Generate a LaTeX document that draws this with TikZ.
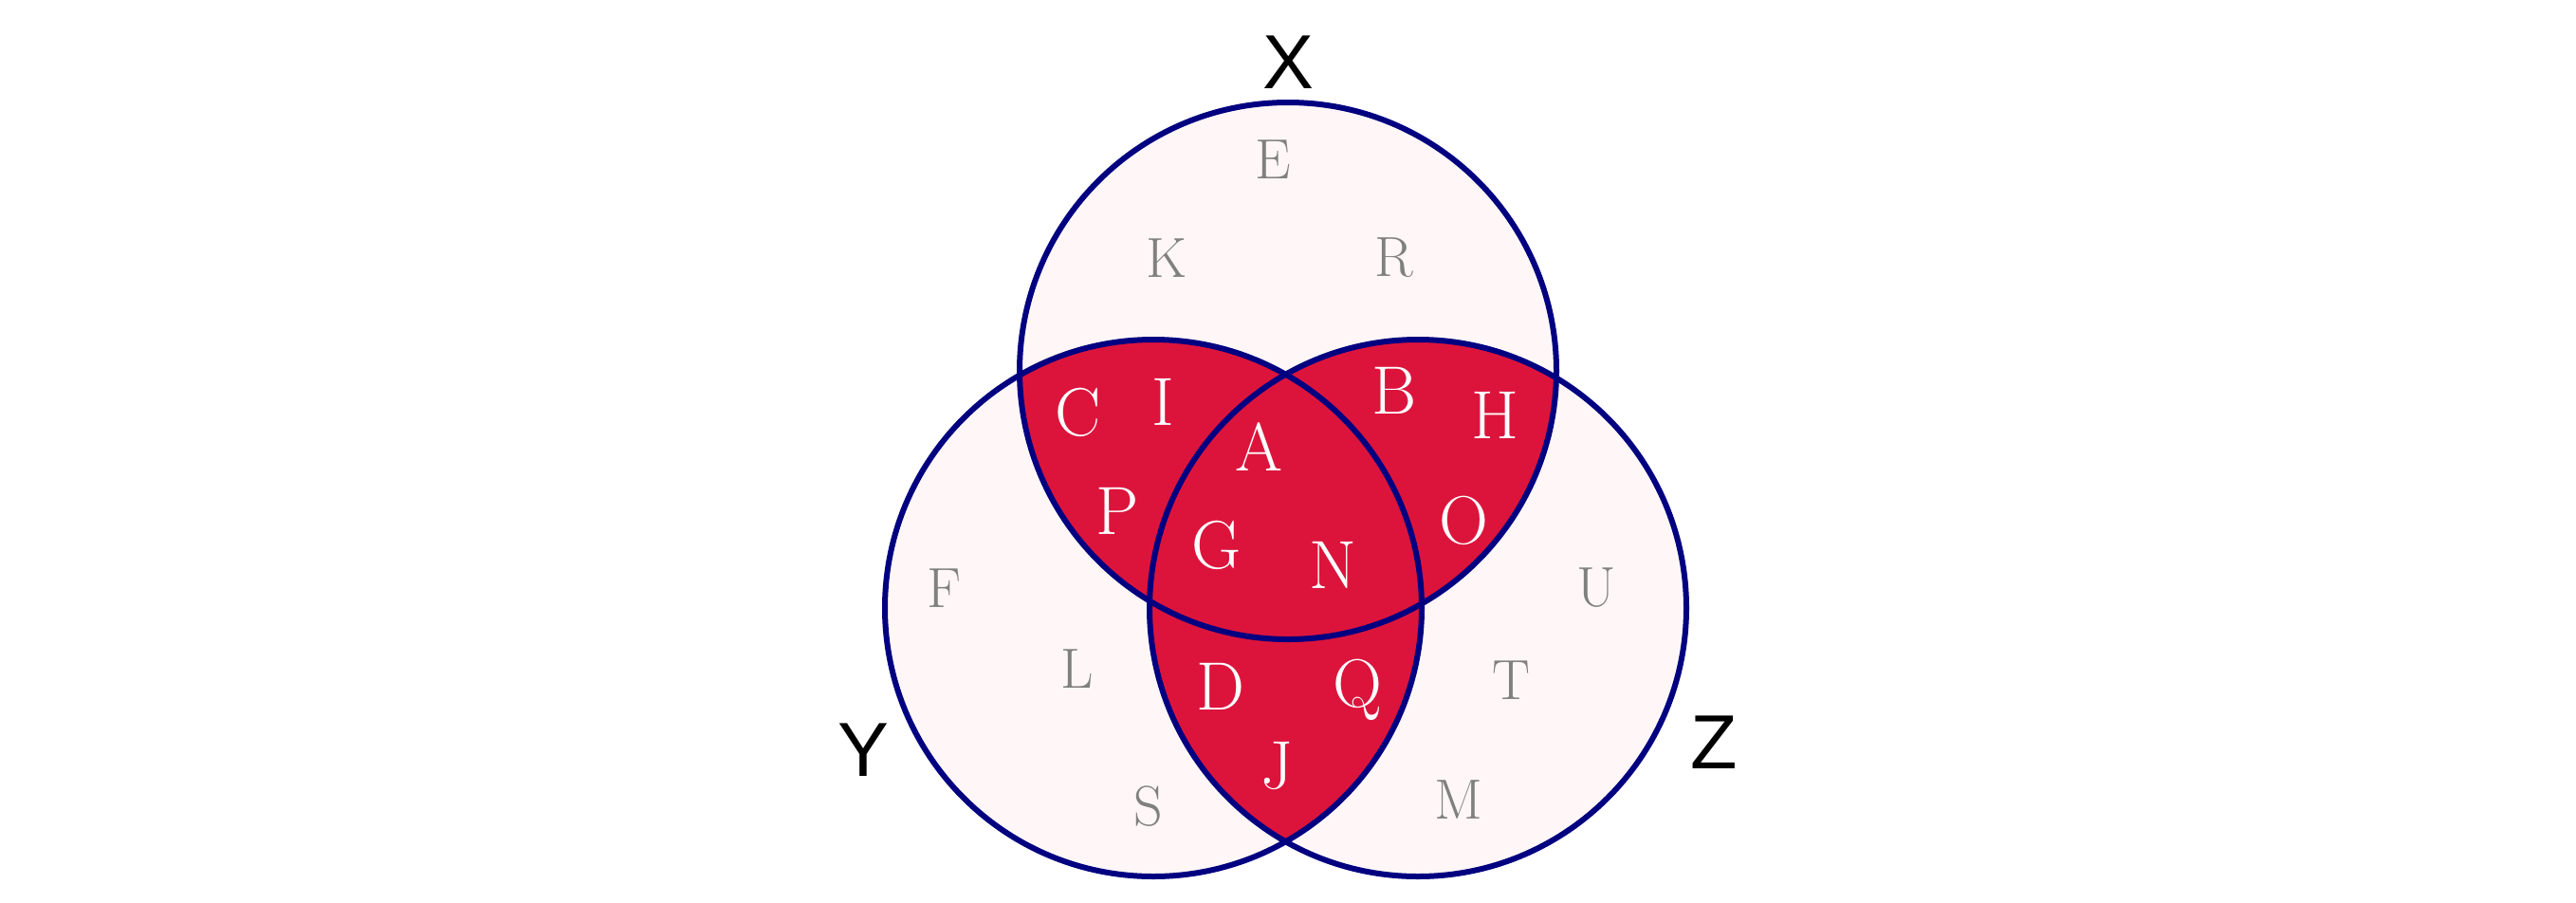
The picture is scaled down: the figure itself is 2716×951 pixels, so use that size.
\documentclass[tikz,border=0pt]{standalone}
\usepackage{fontspec}
\newfontfamily\setfont{Liberation Sans}
\definecolor{venncrimson}{RGB}{220,20,60}
\definecolor{vennnavy}{RGB}{0,0,128}
\definecolor{vennpink}{RGB}{255,247,247}
\newcommand{\vennrad}{28.3mm}

\begin{document}
\begin{tikzpicture}[x=0.1mm, y=-0.1mm,
  inpart/.style={text=white, font=\fontsize{20.5}{20.5}\selectfont},
  outpart/.style={text=gray, font=\fontsize{17}{17}\selectfont},
  setname/.style={text=black, font=\setfont\fontsize{23}{23}\selectfont},
  ring/.style={draw=vennnavy, line width=0.6mm}]
  \useasboundingbox (0,0) rectangle (2716,951);

  \coordinate (cX) at (1358,391);
  \coordinate (cY) at (1216,641);
  \coordinate (cZ) at (1495,641);

  % light background of the three sets
  \foreach \c in {cX,cY,cZ}
    \fill[vennpink] (\c) circle [radius=\vennrad];

  % pairwise overlaps
  \begin{scope}
    \clip (cX) circle [radius=\vennrad];
    \fill[venncrimson] (cY) circle [radius=\vennrad];
    \fill[venncrimson] (cZ) circle [radius=\vennrad];
  \end{scope}
  \begin{scope}
    \clip (cY) circle [radius=\vennrad];
    \fill[venncrimson] (cZ) circle [radius=\vennrad];
  \end{scope}

  \foreach \c in {cX,cY,cZ}
    \draw[ring] (\c) circle [radius=\vennrad];

  % elements only in one set
  \foreach \t/\x/\y in {E/1342/168, K/1230/272, R/1470/272,
                        F/995/620, L/1136/705, S/1211/850,
                        U/1683/620, T/1593/717, M/1538/843}
    \node[outpart] (\t) at (\x,\y) {\t};

  % elements in two or three sets
  \foreach \t/\x/\y in {C/1137/435, I/1226/424, P/1178/539,
                        B/1470/412, H/1576/438, O/1543/549,
                        A/1327/471, G/1283/575, N/1405/596,
                        D/1287/724, Q/1431/727, J/1346/807}
    \node[inpart] (\t) at (\x,\y) {\t};

  \node[setname] (setX) at (1358,66) {X};
  \node[setname] (setY) at (910,791) {Y};
  \node[setname] (setZ) at (1807,783) {Z};
\end{tikzpicture}
\end{document}
